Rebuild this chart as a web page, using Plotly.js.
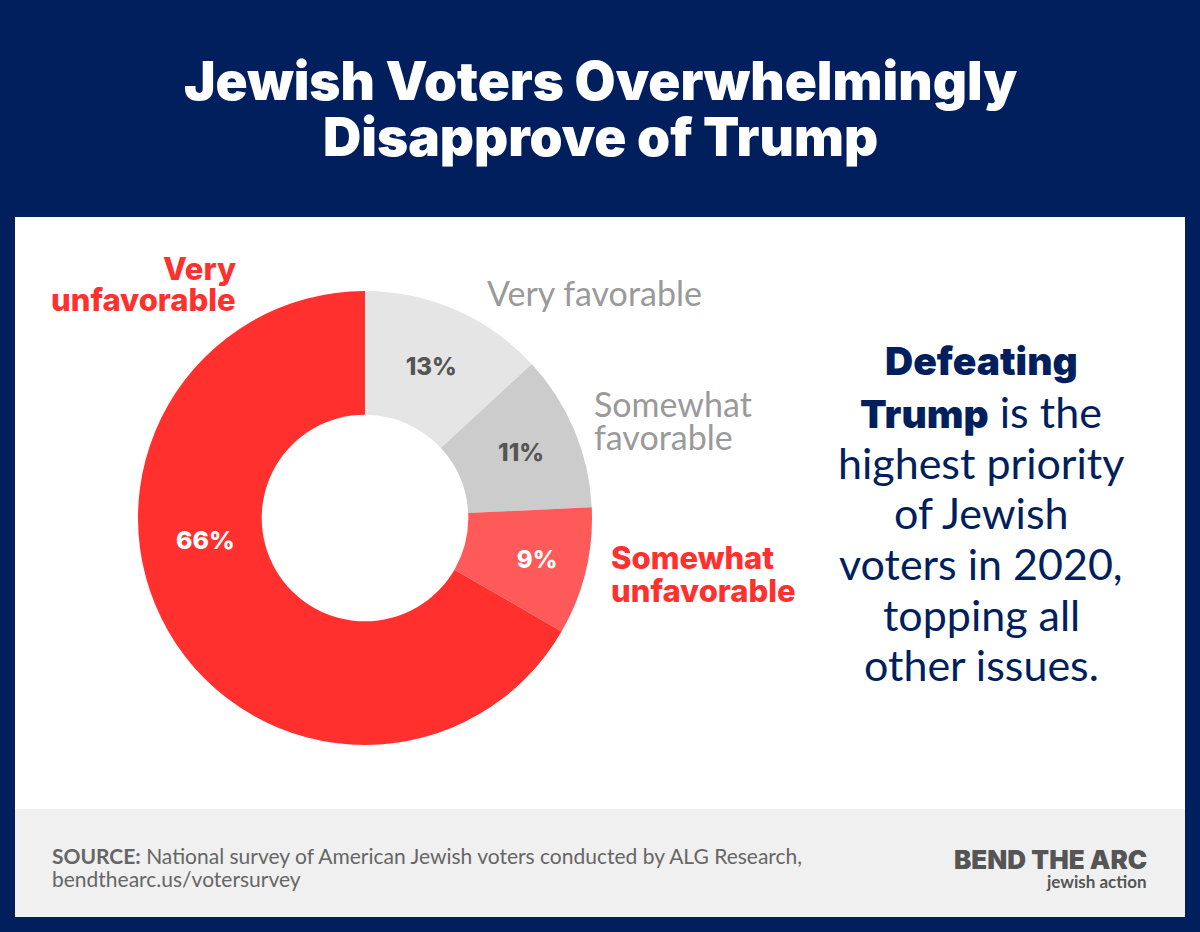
<!DOCTYPE html>
<html>
<head>
<meta charset="utf-8">
<script src="https://cdn.plot.ly/plotly-3.0.1.min.js"></script>
<style>html,body{margin:0;padding:0;background:#011f5d;}#chart{width:1200px;height:932px;}</style>
</head>
<body>
<div id="chart"></div>
<script>
// Data
const categories = ["Very favorable", "Somewhat favorable", "Somewhat unfavorable", "Very unfavorable"];
const values = [13, 11, 9, 66];
const sliceColors = ["#e5e5e5", "#cccccc", "#ff5a5a", "#ff302e"];
const valueTextColors = ["#555555", "#555555", "#ffffff", "#ffffff"];
const titleLines = ["Jewish Voters Overwhelmingly", "Disapprove of Trump"];
const HB = "<span style='font-family:Inter;font-weight:900;font-size:39px'>";
const sideLines = [HB + "Defeating</span>", HB + "Trump</span> is the", "highest priority", "of Jewish", "voters in 2020,", "topping all", "other issues."];

const W = 1200, H = 932;
const px = x => x / W;
const py = y => 1 - y / H;
const NAVY = "#011f5d";
const FONT = "Lato";
const HEAVY = "Inter";

// the largest slice's label is placed as in the reference (left side of the ring)
const sliceText = values.map((v, i) => i === 3 ? "" : v + "%");

const trace = {
  type: "pie",
  labels: categories,
  values: values,
  text: sliceText,
  sort: false,
  direction: "clockwise",
  rotation: 0,
  hole: 0.455,
  marker: {colors: sliceColors, line: {width: 0}},
  texttemplate: "%{text}",
  textposition: "inside",
  insidetextorientation: "horizontal",
  insidetextfont: {family: HEAVY, size: 24, weight: 800, color: valueTextColors},
  showlegend: false,
  hoverinfo: "label+value",
  domain: {x: [px(138), px(592)], y: [py(745), py(291)]}
};

const ann = [];
function addText(text, x, y, opts) {
  ann.push(Object.assign({
    text: text, x: px(x), y: py(y), xref: "paper", yref: "paper",
    showarrow: false, xanchor: "center", yanchor: "middle",
    font: {family: FONT, size: 20, color: "#000"}
  }, opts));
}
// title
addText(titleLines[0], 600, 81, {font: {family: HEAVY, size: 53, weight: 900, color: "#ffffff"}});
addText(titleLines[1], 600, 137, {font: {family: HEAVY, size: 53, weight: 900, color: "#ffffff"}});

// big slice value label
addText(values[3] + "%", 205, 540, {font: {family: HEAVY, size: 25, weight: 800, color: "#ffffff"}});

// outside slice labels
const RED = "#ff302e", GRAY = "#9a9a9a";
addText("Very", 238, 268, {xanchor: "right", font: {family: HEAVY, size: 31, weight: 800, color: RED}});
addText("unfavorable", 238, 299, {xanchor: "right", font: {family: HEAVY, size: 31, weight: 800, color: RED}});
addText("Very favorable", 485, 293, {xanchor: "left", font: {family: FONT, size: 34, color: GRAY}});
addText("Somewhat", 592, 403, {xanchor: "left", font: {family: FONT, size: 34, color: GRAY}});
addText("favorable", 592, 436, {xanchor: "left", font: {family: FONT, size: 34, color: GRAY}});
addText("Somewhat", 609, 557, {xanchor: "left", font: {family: HEAVY, size: 31, weight: 800, color: RED}});
addText("unfavorable", 609, 590, {xanchor: "left", font: {family: HEAVY, size: 31, weight: 800, color: RED}});

// side text
const sideY = [360, 411, 462, 512, 563, 614, 664];
sideLines.forEach((t, i) => addText(t, 981, sideY[i], {font: {family: FONT, size: 43, color: NAVY}}));

// footer
addText("<b>SOURCE:</b> National survey of American Jewish voters conducted by ALG Research,", 50, 855, {xanchor: "left", font: {family: FONT, size: 21, color: "#666666"}});
addText("bendthearc.us/votersurvey", 50, 878, {xanchor: "left", font: {family: FONT, size: 21, color: "#666666"}});
addText("BEND THE ARC", 1149, 859, {xanchor: "right", font: {family: HEAVY, size: 26, weight: 900, color: "#555555"}});
addText("jewish action", 1149, 881, {xanchor: "right", font: {family: FONT, size: 17, weight: 700, color: "#555555"}});

const shapes = [
  {type: "rect", xref: "paper", yref: "paper", x0: px(15), x1: px(1185), y0: py(809), y1: py(217), fillcolor: "#ffffff", line: {width: 0}, layer: "below"},
  {type: "rect", xref: "paper", yref: "paper", x0: px(15), x1: px(1185), y0: py(917), y1: py(809), fillcolor: "#f0f0f0", line: {width: 0}, layer: "below"}
];

const layout = {
  width: W, height: H,
  margin: {l: 0, r: 0, t: 0, b: 0},
  paper_bgcolor: NAVY,
  plot_bgcolor: NAVY,
  showlegend: false,
  annotations: ann,
  shapes: shapes,
  font: {family: FONT}
};

Plotly.newPlot("chart", [trace], layout, {displayModeBar: false, staticPlot: true});
</script>
</body>
</html>
